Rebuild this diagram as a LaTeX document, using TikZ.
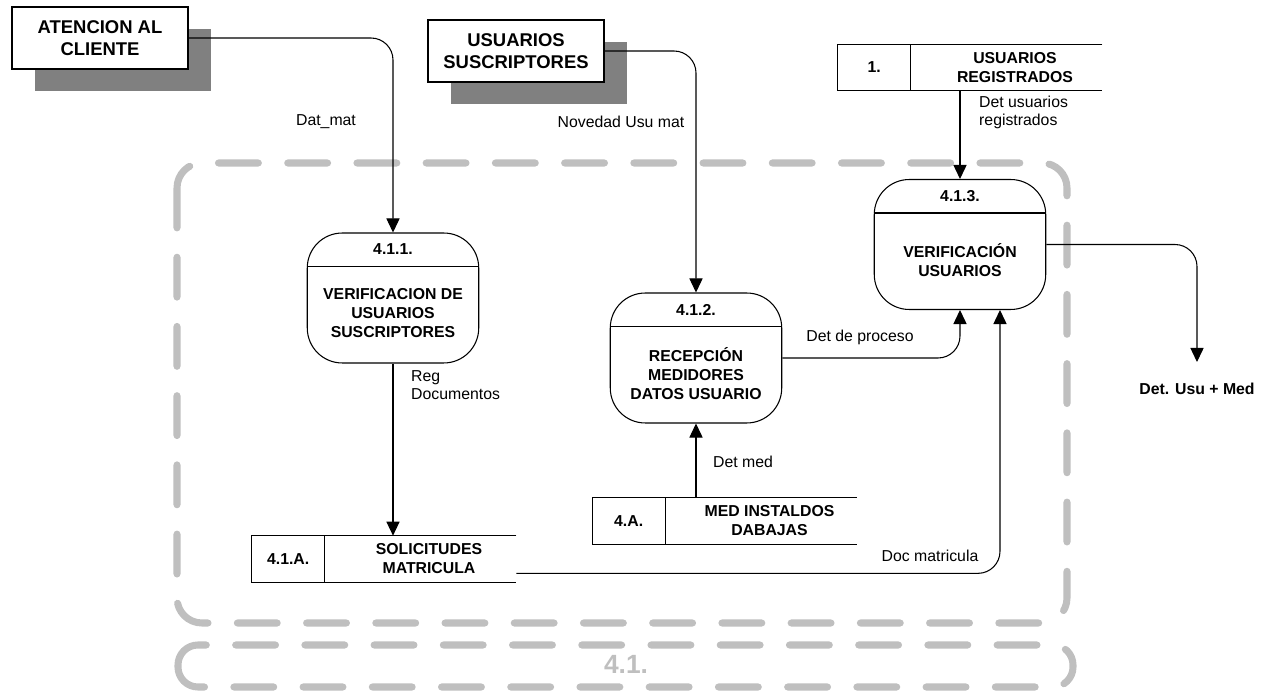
\documentclass[tikz,border=0pt]{standalone}
\usepackage{fontspec}
\setmainfont{Liberation Sans}
\usetikzlibrary{arrows.meta, positioning, calc, shadows}

\begin{document}
\begin{tikzpicture}[
  x=0.02cm, y=-0.02cm,
  entity/.style = {draw, fill=white, rectangle, line width=0.6pt,
                   minimum width=3.52cm, minimum height=1.24cm,
                   align=center, font=\fontsize{10.5}{12.2}\selectfont\bfseries,
                   drop shadow={shadow xshift=0.46cm, shadow yshift=-0.45cm,
                                fill=black!50, opacity=1}},
  proc/.style   = {draw, rectangle, rounded corners=0.7cm, line width=0.6pt,
                   minimum width=3.43cm, minimum height=2.6cm},
  ptext/.style  = {align=center, font=\fontsize{9}{10.8}\selectfont\bfseries},
  store/.style  = {rectangle, minimum width=5.28cm, minimum height=0.92cm, inner sep=0pt},
  lbl/.style    = {align=left, font=\fontsize{9}{10.4}\selectfont},
  flow/.style   = {-{Triangle[length=8pt, width=7.5pt]}, line width=0.6pt,
                   rounded corners=0.44cm},
  frame/.style  = {draw=black!25, line width=4pt, line cap=round,
                   dash pattern=on 22.7pt off 16.7pt, rounded corners=0.5cm},
]
\useasboundingbox (0,0) rectangle (1272,692);

% process boundaries
\draw[frame] (177,163) rectangle (1067,623);
\draw[frame, rounded corners=0.4cm] (178,645) rectangle (1073,687);
\node[font=\fontsize{15}{18}\selectfont\bfseries, text=black!25] (lvl) at (626,664) {4.1.};

% external entities
\node[entity] (aten) at (100,38) {ATENCION AL\\CLIENTE};
\node[entity] (usus) at (516,51) {USUARIOS\\SUSCRIPTORES};

% processes
\node[proc] (p411) at (393,298) {};
\draw[line width=0.6pt] ($(p411.north west)+(0,34)$) -- ($(p411.north east)+(0,34)$);
\node[ptext] (p411n) at ($(p411.north)+(0,17)$) {4.1.1.};
\node[ptext] (p411t) at ($(p411.south)+(0,-50)$) {VERIFICACION DE\\USUARIOS\\SUSCRIPTORES};

\node[proc] (p412) at (696,358) {};
\draw[line width=0.6pt] ($(p412.north west)+(0,34)$) -- ($(p412.north east)+(0,34)$);
\node[ptext] (p412n) at ($(p412.north)+(0,17)$) {4.1.2.};
\node[ptext] (p412t) at ($(p412.south)+(0,-50)$) {RECEPCIÓN\\MEDIDORES\\DATOS USUARIO};

\node[proc] (p413) at (960,244.5) {};
\draw[line width=0.6pt] ($(p413.north west)+(0,34)$) -- ($(p413.north east)+(0,34)$);
\node[ptext] (p413n) at ($(p413.north)+(0,17)$) {4.1.3.};
\node[ptext] (p413t) at ($(p413.south)+(0,-50)$) {VERIFICACIÓN\\USUARIOS};

% data stores
\node[store] (st1) at (970,67.5) {};
\draw[line width=0.6pt] (st1.north east) -- (st1.north west) -- (st1.south west) -- (st1.south east)
  ($(st1.north west)+(73,0)$) -- ($(st1.south west)+(73,0)$);
\node[ptext] (st1id) at ($(st1.west)+(36.5,0)$) {1.};
\node[ptext] (st1t) at ($(st1.center)+(45,0)$) {USUARIOS\\REGISTRADOS};

\node[store] (s41a) at (384,559) {};
\draw[line width=0.6pt] (s41a.north east) -- (s41a.north west) -- (s41a.south west) -- (s41a.south east)
  ($(s41a.north west)+(73,0)$) -- ($(s41a.south west)+(73,0)$);
\node[ptext] (s41aid) at ($(s41a.west)+(36.5,0)$) {4.1.A.};
\node[ptext] (s41at) at ($(s41a.center)+(45,0)$) {SOLICITUDES\\MATRICULA};

\node[store] (s4a) at (724.5,521) {};
\draw[line width=0.6pt] (s4a.north east) -- (s4a.north west) -- (s4a.south west) -- (s4a.south east)
  ($(s4a.north west)+(73,0)$) -- ($(s4a.south west)+(73,0)$);
\node[ptext] (s4aid) at ($(s4a.west)+(36.5,0)$) {4.A.};
\node[ptext] (s4at) at ($(s4a.center)+(45,0)$) {MED INSTALDOS\\DABAJAS};

% data flows
\draw[flow] (aten.east) -| (p411.north);
\draw[flow] (usus.east) -| (p412.north);
\draw[flow] (st1.south -| p413.north) -- (p413.north);
\draw[flow] (p411.south) -- (p411.south |- s41a.north);
\draw[flow] (p412.south |- s4a.north) -- (p412.south);
\draw[flow] (p412.east) -| (p413.south);
\coordinate (p413in) at ($(p413.south)+(40,0)$);
\draw[flow] ($(s41a.south east)+(0,-9)$) -| (p413in);
\coordinate (usumed) at (1197,362);
\draw[flow] (p413.east) -| (usumed);

% flow labels
\node[lbl] (datmat) at (326,122) {Dat\_mat};
\node[lbl] (novedad) at (621,122) {Novedad Usu mat};
\node[lbl, anchor=west] (detusu) at (973,112.5) {Det usuarios\\registrados};
\node[lbl, anchor=west] (regdoc) at (405,385) {Reg\\Documentos};
\node[lbl, anchor=west] (detmed) at (707,462) {Det med};
\node[lbl] (detproc) at (860,337) {Det de proceso};
\node[lbl] (docmat) at (930,556) {Doc matricula};
\node[ptext, below=0.3cm of usumed] (detout) {Det. Usu + Med};

\end{tikzpicture}
\end{document}
